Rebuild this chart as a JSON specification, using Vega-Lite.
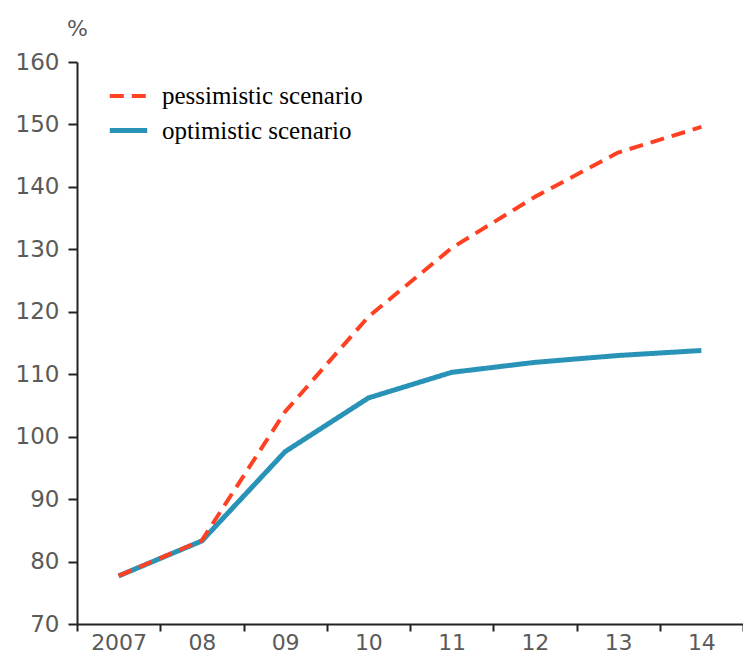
{
  "$schema": "https://vega.github.io/schema/vega-lite/v6.json",
  "autosize": "none",
  "padding": {"left": 77, "top": 62, "right": 0, "bottom": 31},
  "width": 666,
  "height": 562,
  "background": "white",
  "config": {
    "view": {"stroke": null},
    "axis": {
      "labelFont": "DejaVu Sans",
      "labelFontSize": 23,
      "labelColor": "#5a5a5a",
      "domainColor": "#222222",
      "domainWidth": 2,
      "tickColor": "#222222",
      "tickWidth": 2,
      "grid": false
    }
  },
  "data": {
    "values": [
      {"year": "2007", "scenario": "pessimistic scenario", "value": 77.7},
      {"year": "08", "scenario": "pessimistic scenario", "value": 83.4},
      {"year": "09", "scenario": "pessimistic scenario", "value": 104.0},
      {"year": "10", "scenario": "pessimistic scenario", "value": 119.2},
      {"year": "11", "scenario": "pessimistic scenario", "value": 130.2},
      {"year": "12", "scenario": "pessimistic scenario", "value": 138.4},
      {"year": "13", "scenario": "pessimistic scenario", "value": 145.5},
      {"year": "14", "scenario": "pessimistic scenario", "value": 149.6},
      {"year": "2007", "scenario": "optimistic scenario", "value": 77.7},
      {"year": "08", "scenario": "optimistic scenario", "value": 83.3},
      {"year": "09", "scenario": "optimistic scenario", "value": 97.6},
      {"year": "10", "scenario": "optimistic scenario", "value": 106.2},
      {"year": "11", "scenario": "optimistic scenario", "value": 110.3},
      {"year": "12", "scenario": "optimistic scenario", "value": 111.9},
      {"year": "13", "scenario": "optimistic scenario", "value": 113.0},
      {"year": "14", "scenario": "optimistic scenario", "value": 113.8}
    ]
  },
  "encoding": {
    "x": {
      "field": "year",
      "type": "ordinal",
      "sort": ["2007", "08", "09", "10", "11", "12", "13", "14"],
      "scale": {"type": "band", "paddingInner": 0, "paddingOuter": 0},
      "axis": {
        "title": null,
        "labelAngle": 0,
        "labelFontSize": 22,
        "tickBand": "extent",
        "tickSize": 7,
        "labelPadding": 1
      }
    },
    "y": {
      "field": "value",
      "type": "quantitative",
      "scale": {"domain": [70, 160], "nice": false, "zero": false},
      "axis": {
        "values": [70, 80, 90, 100, 110, 120, 130, 140, 150, 160],
        "tickSize": 9,
        "labelPadding": 9,
        "title": "%",
        "titleAngle": 0,
        "titleX": 0,
        "titleY": -34,
        "titleAlign": "center",
        "titleBaseline": "middle",
        "titleFont": "DejaVu Sans",
        "titleFontSize": 22,
        "titleFontWeight": "normal",
        "titleColor": "#5a5a5a"
      }
    },
    "color": {
      "field": "scenario",
      "type": "nominal",
      "scale": {
        "domain": ["pessimistic scenario", "optimistic scenario"],
        "range": ["#ff4022", "#2893b7"]
      },
      "legend": {
        "title": null,
        "orient": "none",
        "legendX": 24,
        "legendY": 7,
        "symbolType": "stroke",
        "symbolSize": 1400,
        "symbolStrokeWidth": 5,
        "labelFont": "Liberation Serif",
        "labelFontSize": 25,
        "labelColor": "#000000",
        "labelLimit": 400,
        "labelOffset": 12,
        "rowPadding": 0,
        "fillColor": "white",
        "padding": 6
      }
    },
    "strokeDash": {
      "field": "scenario",
      "type": "nominal",
      "scale": {
        "domain": ["pessimistic scenario", "optimistic scenario"],
        "range": [[14, 8], [1, 0]]
      },
      "legend": null
    },
    "strokeWidth": {
      "field": "scenario",
      "type": "nominal",
      "scale": {
        "domain": ["pessimistic scenario", "optimistic scenario"],
        "range": [4, 5]
      },
      "legend": null
    }
  },
  "layer": [
    {
      "transform": [{"filter": "datum.scenario === 'optimistic scenario'"}],
      "mark": {"type": "line", "strokeCap": "butt", "strokeJoin": "round"}
    },
    {
      "transform": [{"filter": "datum.scenario === 'pessimistic scenario'"}],
      "mark": {"type": "line", "strokeCap": "butt", "strokeJoin": "round"}
    }
  ]
}
